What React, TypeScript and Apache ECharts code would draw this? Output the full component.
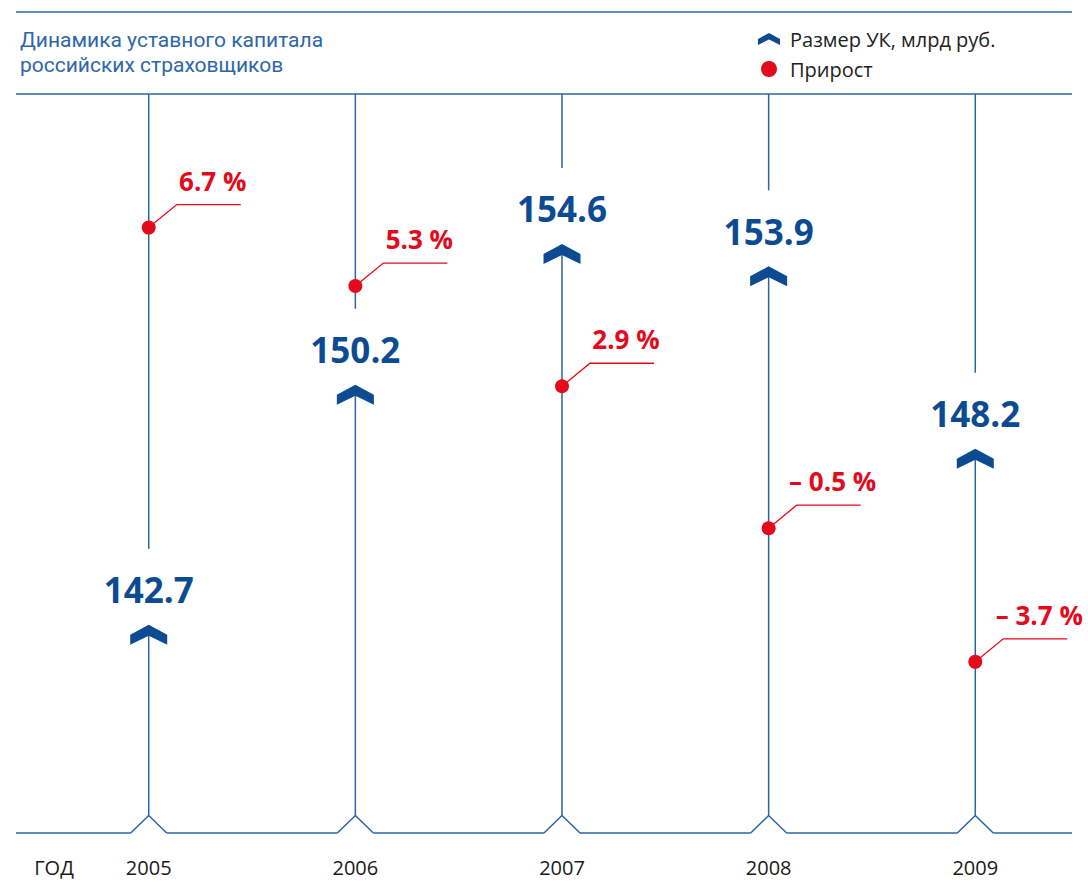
import React, { useEffect, useRef } from "react";
import * as echarts from "echarts";

const years = ["2005", "2006", "2007", "2008", "2009"];
const capital = [142.7, 150.2, 154.6, 153.9, 148.2];
const growth = [6.7, 5.3, 2.9, -0.5, -3.7];
const titleLine1 = "Динамика уставного капитала";
const titleLine2 = "российских страховщиков";
const legendCapital = "Размер УК, млрд руб.";
const legendGrowth = "Прирост";
const yearAxisName = "ГОД";

const BLUE_LINE = "#2b63a6";
const BLUE_DARK = "#0c4b92";
const TITLE_BLUE = "#2e67a9";
const RED = "#e30a1b";
const FONT = "'Open Sans', 'DejaVu Sans', sans-serif";
const TITLE_FONT = "Roboto, 'Open Sans', sans-serif";

const fmtPct = (v: number) =>
  v < 0 ? `– ${Math.abs(v).toFixed(1)} %` : `${v.toFixed(1)} %`;

export default function App() {
  const ref = useRef<HTMLDivElement>(null);
  useEffect(() => {
    if (!ref.current) return;
    const chart = echarts.init(ref.current, undefined, { renderer: "svg" });
    const lineStyle = { stroke: BLUE_LINE, lineWidth: 1.5, fill: null };
    const titleStyle = {
      color: TITLE_BLUE,
      fontSize: 21,
      lineHeight: 24,
      fontWeight: "normal",
      fontFamily: TITLE_FONT,
    };
    const option: any = {
      animation: false,
      backgroundColor: "#ffffff",
      title: {
        text: titleLine1,
        subtext: titleLine2,
        left: 20,
        top: 28,
        padding: 0,
        itemGap: 1,
        textStyle: titleStyle,
        subtextStyle: titleStyle,
      },
      legend: {
        orient: "vertical",
        left: 758,
        top: 29,
        padding: 0,
        itemWidth: 22,
        itemHeight: 16,
        itemGap: 10,
        selectedMode: false,
        textStyle: {
          color: "#222222",
          fontSize: 20,
          lineHeight: 20,
          fontFamily: FONT,
          padding: [0, 0, 0, 5],
        },
        data: [
          {
            name: legendCapital,
            icon: "path://M0 10 L18.5 0 L37 10 L37 20 L18.5 11 L0 20 Z",
          },
          { name: legendGrowth, icon: "circle" },
        ],
      },
      grid: { left: 45.4, right: 9.4, top: 94, height: 739 },
      xAxis: {
        type: "category",
        data: years,
        axisLine: { show: false },
        axisTick: { show: false },
        splitLine: { show: false },
        axisLabel: {
          margin: 24,
          color: "#1a1a1a",
          fontSize: 20,
          fontFamily: FONT,
        },
      },
      yAxis: [
        { type: "value", min: 136.5, max: 159.6, show: false, splitLine: { show: false } },
        { type: "value", min: -7.8, max: 9.9, show: false, splitLine: { show: false } },
      ],
      graphic: [
        { type: "line", shape: { x1: 16, y1: 12, x2: 1072, y2: 12 }, style: lineStyle, z: 0 },
        { type: "line", shape: { x1: 16, y1: 94, x2: 1072, y2: 94 }, style: lineStyle, z: 0 },
        { type: "line", shape: { x1: 16, y1: 833, x2: 1072, y2: 833 }, style: lineStyle, z: 0 },
        {
          type: "text",
          x: 54,
          y: 867,
          style: {
            text: yearAxisName,
            fill: "#1a1a1a",
            fontSize: 20,
            fontFamily: FONT,
            align: "center",
            verticalAlign: "middle",
          },
        },
      ],
      series: [
        {
          name: legendCapital,
          type: "custom",
          yAxisIndex: 0,
          itemStyle: { color: BLUE_DARK },
          data: capital.map((v, i) => [i, v]),
          encode: { x: 0, y: 1 },
          renderItem: (params: any, api: any) => {
            const idx = params.dataIndex;
            const pt = api.coord([api.value(0), api.value(1)]);
            const cs = params.coordSys;
            const top = cs.y;
            const bottom = cs.y + cs.height;
            const cx = pt[0];
            const cy = pt[1];
            return {
              type: "group",
              children: [
                { type: "line", shape: { x1: cx, y1: top, x2: cx, y2: cy - 86 }, style: lineStyle },
                { type: "line", shape: { x1: cx, y1: cy, x2: cx, y2: bottom - 17.5 }, style: lineStyle },
                { type: "rect", shape: { x: cx - 18, y: bottom - 2, width: 36, height: 4 }, style: { fill: "#ffffff" } },
                {
                  type: "polyline",
                  shape: { points: [[cx - 18, bottom], [cx, bottom - 17.5], [cx + 18, bottom]] },
                  style: lineStyle,
                },
                {
                  type: "polygon",
                  shape: {
                    points: [
                      [cx, cy - 10],
                      [cx + 18.5, cy],
                      [cx + 18.5, cy + 10],
                      [cx, cy + 1],
                      [cx - 18.5, cy + 10],
                      [cx - 18.5, cy],
                    ],
                  },
                  style: { fill: BLUE_DARK },
                },
                {
                  type: "text",
                  x: cx,
                  y: cy - 45,
                  style: {
                    text: capital[idx].toFixed(1),
                    fill: BLUE_DARK,
                    fontSize: 35,
                    fontWeight: "bold",
                    fontFamily: FONT,
                    align: "center",
                    verticalAlign: "middle",
                  },
                },
              ],
            };
          },
        },
        {
          name: legendGrowth,
          type: "custom",
          yAxisIndex: 1,
          itemStyle: { color: RED },
          data: growth.map((v, i) => [i, v]),
          encode: { x: 0, y: 1 },
          renderItem: (params: any, api: any) => {
            const idx = params.dataIndex;
            const pt = api.coord([api.value(0), api.value(1)]);
            const cx = pt[0];
            const cy = pt[1];
            return {
              type: "group",
              children: [
                {
                  type: "polyline",
                  shape: { points: [[cx, cy], [cx + 28, cy - 23], [cx + 92, cy - 23]] },
                  style: { stroke: RED, lineWidth: 1.3, fill: null },
                },
                { type: "circle", shape: { cx, cy, r: 7 }, style: { fill: RED } },
                {
                  type: "text",
                  x: cx + 64,
                  y: cy - 47,
                  style: {
                    text: fmtPct(growth[idx]),
                    fill: RED,
                    fontSize: 26,
                    fontWeight: "bold",
                    fontFamily: FONT,
                    align: "center",
                    verticalAlign: "middle",
                  },
                },
              ],
            };
          },
        },
      ],
    };
    chart.setOption(option);
    return () => chart.dispose();
  }, []);
  return (
    <div
      ref={ref}
      style={{ position: "absolute", left: 0, top: 0, width: 1088, height: 890 }}
    />
  );
}
